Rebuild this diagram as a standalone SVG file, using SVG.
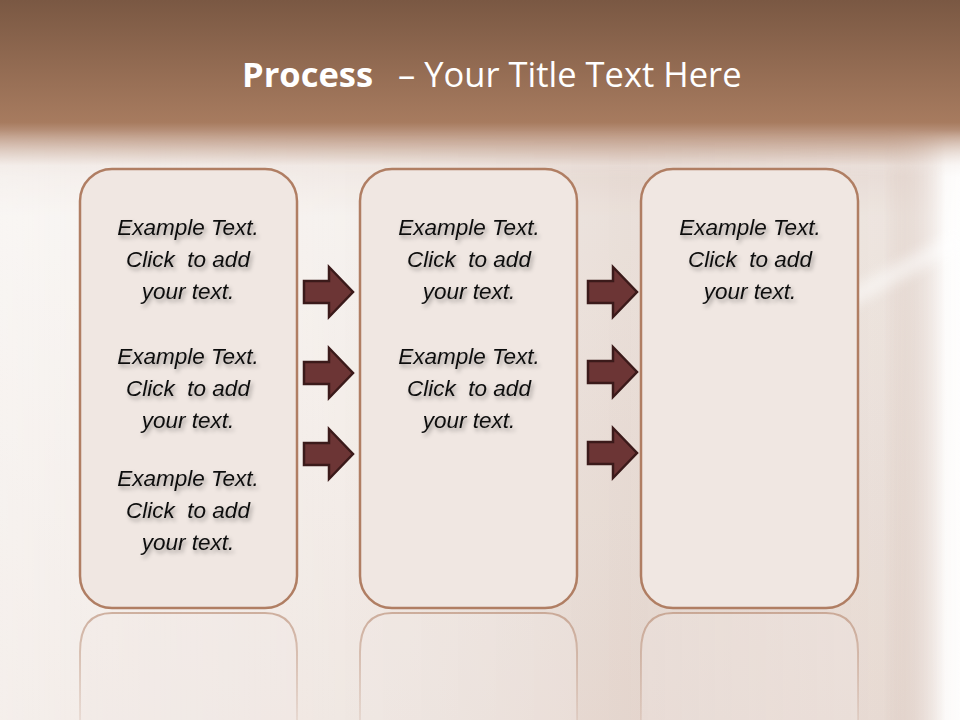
<svg xmlns="http://www.w3.org/2000/svg" width="960" height="720" viewBox="0 0 960 720">
<defs>
  <linearGradient id="bgV" x1="0" y1="0" x2="0" y2="1">
    <stop offset="0" stop-color="#7a5843"/>
    <stop offset="0.17" stop-color="#a77b5f"/>
    <stop offset="0.19" stop-color="#c2a08c"/>
    <stop offset="0.23" stop-color="#efe6e1"/>
    <stop offset="0.3" stop-color="#f5f0ec"/>
    <stop offset="1" stop-color="#eee4de"/>
  </linearGradient>
  <linearGradient id="bgH" x1="0" y1="0" x2="1" y2="0">
    <stop offset="0" stop-color="#ffffff" stop-opacity="0.4"/>
    <stop offset="0.35" stop-color="#ffffff" stop-opacity="0.15"/>
    <stop offset="0.65" stop-color="#b89585" stop-opacity="0.18"/>
    <stop offset="0.92" stop-color="#b89585" stop-opacity="0.12"/>
    <stop offset="0.985" stop-color="#ffffff" stop-opacity="0.8"/>
    <stop offset="1" stop-color="#ffffff" stop-opacity="0.9"/>
  </linearGradient>
  <linearGradient id="fadeTop" x1="0" y1="0" x2="0" y2="1">
    <stop offset="0" stop-color="#fff" stop-opacity="0"/>
    <stop offset="0.08" stop-color="#fff" stop-opacity="1"/>
    <stop offset="1" stop-color="#fff" stop-opacity="1"/>
  </linearGradient>
  <mask id="m1"><rect x="0" y="130" width="960" height="590" fill="url(#fadeTop)"/></mask>
  <linearGradient id="refl" x1="0" y1="0" x2="0" y2="1">
    <stop offset="0" stop-color="#b07e63" stop-opacity="0.55"/>
    <stop offset="1" stop-color="#b07e63" stop-opacity="0.15"/>
  </linearGradient>
  <filter id="ts" x="-10%" y="-30%" width="130%" height="180%">
    <feDropShadow dx="2" dy="3" stdDeviation="2" flood-color="#000" flood-opacity="0.35"/>
  </filter>
  <filter id="blur"><feGaussianBlur stdDeviation="6"/></filter>
  <path id="arr" d="M0,-11 H25 V-25 L49,0 L25,25 V11 H0 Z"/>
</defs>
<style>
  .box{fill:#f0e7e2;stroke:#b07e63;stroke-width:2.5}
  .rbox{fill:#f2e9e4;fill-opacity:0.35;stroke:url(#refl);stroke-width:2}
  .t{font-family:"Liberation Sans",Arial,sans-serif;font-style:italic;font-size:22.5px;fill:#111;text-anchor:middle;filter:url(#ts)}
  .arrow{fill:#6c3535;stroke:#3b1a1a;stroke-width:2.5;stroke-linejoin:miter}
  .title{font-family:"Open Sans","Liberation Sans",sans-serif;font-size:34.5px;fill:#ffffff}
</style>
<rect x="0" y="0" width="960" height="720" fill="url(#bgV)"/>
<rect x="0" y="130" width="960" height="590" fill="url(#bgH)" mask="url(#m1)"/>
<path d="M780,330 Q880,270 960,230 L960,250 Q880,290 785,345 Z" fill="#ffffff" opacity="0.5" filter="url(#blur)"/>
<text class="title" y="87"><tspan x="242" font-weight="bold">Process</tspan><tspan x="398">– Your Title Text Here</tspan></text>

<g id="reflections">
  <path class="rbox" d="M80,720 V652 Q80,613 112,613 H265 Q297,613 297,652 V720"/>
  <path class="rbox" d="M360,720 V652 Q360,613 392,613 H545 Q577,613 577,652 V720"/>
  <path class="rbox" d="M641,720 V652 Q641,613 673,613 H826 Q858,613 858,652 V720"/>
</g>

<g id="node1">
  <rect class="box" x="80" y="169" width="217" height="439" rx="32"/>
  <text class="t" x="188" y="235">Example Text.</text>
  <text class="t" x="188" y="267" xml:space="preserve">Click  to add</text>
  <text class="t" x="188" y="299">your text.</text>
  <text class="t" x="188" y="364">Example Text.</text>
  <text class="t" x="188" y="396" xml:space="preserve">Click  to add</text>
  <text class="t" x="188" y="428">your text.</text>
  <text class="t" x="188" y="486">Example Text.</text>
  <text class="t" x="188" y="518" xml:space="preserve">Click  to add</text>
  <text class="t" x="188" y="550">your text.</text>
</g>
<g id="node2">
  <rect class="box" x="360" y="169" width="217" height="439" rx="32"/>
  <text class="t" x="469" y="235">Example Text.</text>
  <text class="t" x="469" y="267" xml:space="preserve">Click  to add</text>
  <text class="t" x="469" y="299">your text.</text>
  <text class="t" x="469" y="364">Example Text.</text>
  <text class="t" x="469" y="396" xml:space="preserve">Click  to add</text>
  <text class="t" x="469" y="428">your text.</text>
</g>
<g id="node3">
  <rect class="box" x="641" y="169" width="217" height="439" rx="32"/>
  <text class="t" x="750" y="235">Example Text.</text>
  <text class="t" x="750" y="267" xml:space="preserve">Click  to add</text>
  <text class="t" x="750" y="299">your text.</text>
</g>

<g id="connectors">
  <use href="#arr" class="arrow" transform="translate(304,292)"/>
  <use href="#arr" class="arrow" transform="translate(304,373)"/>
  <use href="#arr" class="arrow" transform="translate(304,454)"/>
  <use href="#arr" class="arrow" transform="translate(588,292)"/>
  <use href="#arr" class="arrow" transform="translate(588,372)"/>
  <use href="#arr" class="arrow" transform="translate(588,453)"/>
</g>
</svg>
